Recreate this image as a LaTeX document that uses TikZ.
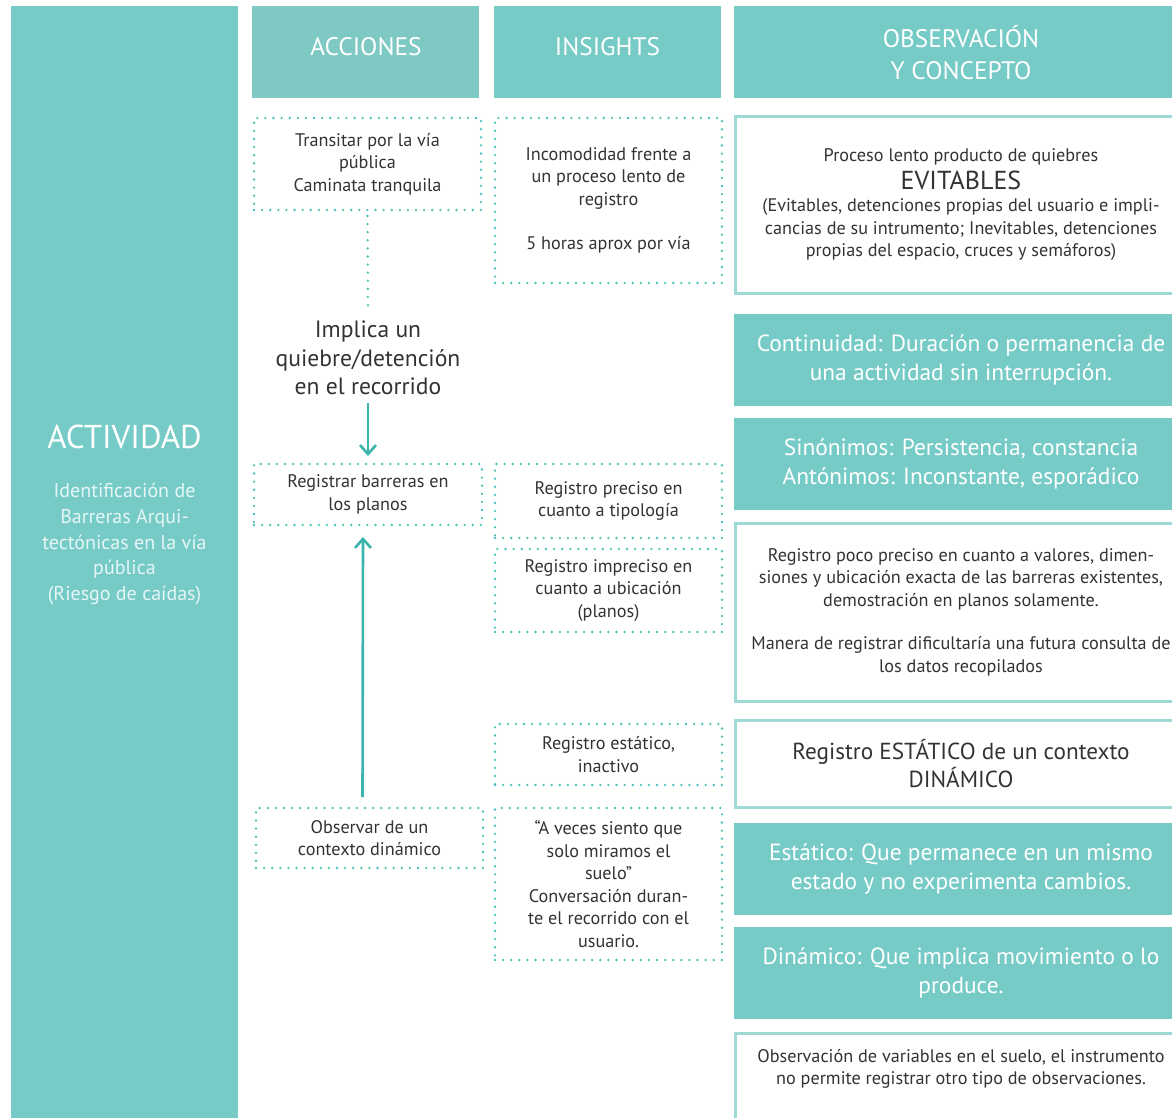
\documentclass[tikz,border=0pt]{standalone}
\usepackage{fontspec}
\setmainfont{PT Sans}
\usetikzlibrary{arrows.meta}

\definecolor{tealfill}{HTML}{76CBC7}
\definecolor{headfill}{HTML}{7EC9C4}
\definecolor{dotc}{HTML}{4DBFB9}
\definecolor{framec}{HTML}{9ED9D5}
\definecolor{arrowc}{HTML}{3BB4AD}
\definecolor{ink}{HTML}{333333}
\definecolor{softwhite}{HTML}{E6F6F5}

\tikzset{
  cell/.style={anchor=north west, inner sep=0pt, outer sep=0pt, align=center,
    text=ink, font=\fontsize{18.2}{22.5}\selectfont},
  filledcell/.style={cell, fill=tealfill, text=white, font=\fontsize{23.4}{28.5}\selectfont},
  headcell/.style={cell, fill=tealfill},
  headtext/.style={inner sep=0pt, align=center, text=white, font=\fontsize{25.3}{32}\selectfont},
  dotbox/.style={cell, draw=dotc, line width=2.6pt, line cap=round, dash pattern=on 0pt off 8.1pt},
  framebox/.style={cell, draw=framec, line width=3pt},
  bodytext/.style={inner sep=0pt, align=center, text=ink, font=\fontsize{18.2}{22.5}\selectfont},
  dotline/.style={draw=dotc, line width=2.6pt, line cap=round, dash pattern=on 0pt off 8.1pt},
  flowarrow/.style={draw=arrowc, line width=2.6pt, -{Straight Barb[length=9pt,width=16pt,line width=2.6pt]}},
}

\begin{document}
\begin{tikzpicture}[x=1pt,y=-1pt]
\clip (0,0) rectangle (1172,1118);
\fill[white] (0,0) rectangle (1172,1118);

% activity column
\node[headcell, minimum width=227, minimum height=1130] (act) at (11,6) {};
\node[headtext, font=\fontsize{33}{38}\selectfont] (actTitle) at (124.5,437) {ACTIVIDAD};
\node[headtext, text=softwhite, font=\fontsize{20}{25.7}\selectfont] (actSub) at (124.5,544)
  {Identificación de\\Barreras Arqui-\\tectónicas en la vía\\pública\\(Riesgo de caídas)};

% column headers
\node[headcell, fill=headfill, minimum width=227, minimum height=92] (hAcc) at (252,6) {};
\node[headtext] (hAccText) at (366,47) {ACCIONES};
\node[headcell, minimum width=227, minimum height=92] (hIns) at (494,6) {};
\node[headtext] (hInsText) at (607.5,47) {INSIGHTS};
\node[headcell, minimum width=454, minimum height=92] (hObs) at (734,6) {};
\node[headtext] (hObsText) at (961,53) {OBSERVACIÓN\\Y CONCEPTO};

% acciones column
\node[dotbox, minimum width=227, minimum height=92] (trans) at (254,118)
  {Transitar por la vía\\pública\\Caminata tranquila};
\node[bodytext, font=\fontsize{23.6}{28.5}\selectfont] (implica) at (368,358)
  {Implica un\\quiebre/detención\\en el recorrido};
\node[dotbox, minimum width=228, minimum height=61] (registrar) at (254,464)
  {Registrar barreras en\\los planos};
\node[dotbox, minimum width=227, minimum height=60] (observar) at (256,808)
  {Observar de un\\contexto dinámico};

% insights column
\node[dotbox, minimum width=227, minimum height=165] (incom) at (495,118)
  {Incomodidad frente a\\un proceso lento de\\registro\\[22pt]5 horas aprox por vía};
\node[dotbox, minimum width=227, minimum height=74] (preciso) at (495,464)
  {Registro preciso en\\cuanto a tipología};
\node[dotbox, minimum width=227, minimum height=83] (impreciso) at (495,549)
  {Registro impreciso en\\cuanto a ubicación\\(planos)};
\node[dotbox, minimum width=227, minimum height=61] (estatico) at (495,724)
  {Registro estático,\\inactivo};
\node[dotbox, minimum width=227, minimum height=152] (aveces) at (495,808)
  {“A veces siento que\\solo miramos el\\suelo”\\Conversación duran-\\te el recorrido con el\\usuario.};

% observation and concept column
\node[framebox, minimum width=452, minimum height=176] (proceso) at (735,117)
  {Proceso lento producto de quiebres\\[5pt]{\fontsize{26}{28}\selectfont EVITABLES}\\(Evitables, detenciones propias del usuario e impli-\\cancias de su intrumento; Inevitables, detenciones\\propias del espacio, cruces y semáforos)};
\node[filledcell, minimum width=454, minimum height=92] (continuidad) at (734,314)
  {Continuidad: Duración o permanencia de\\una actividad sin interrupción.};
\node[filledcell, minimum width=454, minimum height=92] (sinonimos) at (734,418)
  {Sinónimos: Persistencia, constancia\\Antónimos: Inconstante, esporádico};
\node[framebox, minimum width=452, minimum height=178] (pocopreciso) at (735,523)
  {Registro poco preciso en cuanto a valores, dimen-\\siones y ubicación exacta de las barreras existentes,\\demostración en planos solamente.\\[21pt]Manera de registrar dificultaría una futura consulta de\\los datos recopilados};
\node[framebox, minimum width=452, minimum height=87, font=\fontsize{23.2}{28.5}\selectfont] (estDin) at (735,720)
  {Registro ESTÁTICO de un contexto\\DINÁMICO};
\node[filledcell, minimum width=454, minimum height=92] (estDef) at (734,823)
  {Estático: Que permanece en un mismo\\estado y no experimenta cambios.};
\node[filledcell, minimum width=454, minimum height=92] (dinDef) at (734,927)
  {Dinámico: Que implica movimiento o lo\\produce.};
\node[framebox, minimum width=452, minimum height=120] (obsVar) at (735,1033) {};
\node[bodytext] (obsVarText) at (961,1069)
  {Observación de variables en el suelo, el instrumento\\no permite registrar otro tipo de observaciones.};

% connectors
\draw[dotline] ([yshift=-6pt]trans.south) -- ([yshift=12pt]implica.north);
\draw[flowarrow] ([yshift=-8pt]implica.south) -- ([yshift=8pt]registrar.north);
\draw[flowarrow] ([xshift=-7pt,yshift=11pt]observar.north) -- ([xshift=-5pt,yshift=-12pt]registrar.south);
\end{tikzpicture}
\end{document}
